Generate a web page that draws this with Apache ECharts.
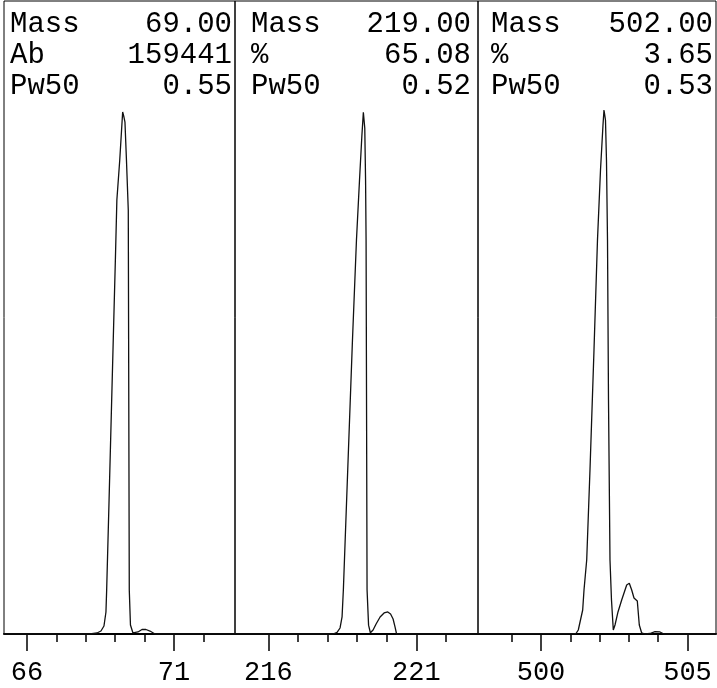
<!DOCTYPE html>
<html>
<head>
<meta charset="utf-8">
<script src="https://cdn.jsdelivr.net/npm/echarts@6.0.0/dist/echarts.min.js"></script>
<style>
html,body{margin:0;padding:0;background:#fff;}
#main{width:717px;height:688px;}
</style>
</head>
<body>
<div id="main"></div>
<script>
// header text for each panel
var massTitles = ['69.00', '219.00', '502.00'];
var row2Names = ['Ab', '%', '%'];
var row2Values = ['159441', '65.08', '3.65'];
var pw50Values = ['0.55', '0.52', '0.53'];

// axis ranges and ticks
var axisMin = [65.22, 214.875, 497.85];
var axisMax = [73.075, 223.08, 505.973];
var minorTicks = [[66, 67, 68, 69, 70, 71, 72], [216, 217, 218, 219, 220, 221, 222], [499, 500, 501, 502, 503, 504, 505]];
var majorTicks = [[66, 71], [216, 221], [500, 505]];

// peak profiles (mass, relative intensity)
var mass69X = [65.22, 68.143, 68.381, 68.517, 68.619, 68.687, 68.711, 68.793, 68.935, 69.007, 69.058, 69.156, 69.228, 69.255, 69.299, 69.333, 69.384, 69.446, 69.463, 69.48, 69.52, 69.605, 69.673, 69.776, 69.912, 70.048, 70.184, 70.354, 73.075];
var mass69Y = [0, 0, 0.16, 0.47, 1.26, 3.48, 6.95, 21.17, 46.45, 59.08, 68.56, 74.88, 80.41, 82.46, 81.67, 80.88, 74.88, 66.98, 36.97, 6.95, 1.42, 0.16, 0, 0.32, 0.71, 0.71, 0.47, 0, 0];

var mass219X = [214.875, 218.186, 218.321, 218.422, 218.49, 218.534, 218.706, 218.841, 218.976, 219.078, 219.16, 219.209, 219.257, 219.284, 219.301, 219.318, 219.334, 219.385, 219.446, 219.537, 219.639, 219.774, 219.909, 220.034, 220.128, 220.213, 220.28, 220.331, 223.08];
var mass219Y = [0, 0, 0.24, 0.95, 2.7, 7.0, 29.1, 46.4, 62.2, 71.6, 78.8, 82.4, 79.9, 71.6, 62.2, 33.8, 7.0, 1.4, 0.2, 0.63, 1.58, 2.69, 3.32, 3.48, 3.16, 2.37, 1.1, 0, 0];

var mass502X = [497.85, 501.195, 501.273, 501.423, 501.468, 501.56, 501.672, 501.809, 501.928, 502.031, 502.116, 502.15, 502.201, 502.235, 502.27, 502.304, 502.355, 502.406, 502.468, 502.526, 502.628, 502.754, 502.925, 503.014, 503.096, 503.174, 503.287, 503.355, 503.437, 503.549, 503.72, 503.891, 504.061, 504.198, 505.973];
var mass502Y = [0, 0.08, 0.63, 3.79, 6.95, 11.69, 25.91, 44.87, 62.24, 73.3, 80.41, 82.78, 81.2, 74.88, 62.24, 36.97, 11.69, 5.37, 0.63, 1.42, 3.48, 5.37, 7.74, 8.01, 6.95, 5.69, 5.21, 1.42, 0.16, 0, 0.08, 0.39, 0.32, 0, 0];

var peaksX = [mass69X, mass219X, mass502X];
var peaksY = [mass69Y, mass219Y, mass502Y];

var FONT = '"Liberation Mono", "DejaVu Sans Mono", monospace';
var gridLefts = [4, 235, 478];
var gridWidths = [231, 243, 238];
var textLeft = [10, 251, 491];
var textRight = [232, 471, 713];

function zip(xs, ys) {
	var out = [];
	for (var i = 0; i < xs.length; i++) out.push([xs[i], ys[i]]);
	return out;
}

var grids = [], xAxes = [], yAxes = [], series = [], texts = [];
for (var p = 0; p < 3; p++) {
	grids.push({
		left: gridLefts[p], top: 1, width: gridWidths[p], height: 633,
		show: true, borderColor: '#000', borderWidth: 1, backgroundColor: 'transparent'
	});
	// minor ticks + axis line
	xAxes.push({
		type: 'value', gridIndex: p, position: 'bottom',
		min: axisMin[p], max: axisMax[p],
		axisLine: { show: true, lineStyle: { color: '#000', width: 2 } },
		axisTick: { show: true, length: 8, customValues: minorTicks[p], lineStyle: { color: '#000', width: 1.5 } },
		axisLabel: { show: false },
		splitLine: { show: false }
	});
	// major ticks + labels
	xAxes.push({
		type: 'value', gridIndex: p, position: 'bottom',
		min: axisMin[p], max: axisMax[p],
		axisLine: { show: false },
		axisTick: { show: true, length: 17, customValues: majorTicks[p], lineStyle: { color: '#000', width: 1.5 } },
		axisLabel: { show: true, customValues: majorTicks[p], margin: 25, color: '#000', fontSize: 27, fontFamily: FONT },
		splitLine: { show: false }
	});
	yAxes.push({
		type: 'value', gridIndex: p, min: 0, max: 100, show: false, splitLine: { show: false }
	});
	series.push({
		type: 'line', xAxisIndex: p * 2, yAxisIndex: p,
		data: zip(peaksX[p], peaksY[p]),
		showSymbol: false, clip: true,
		lineStyle: { color: '#111', width: 1.3 }
	});

	var rows = [['Mass', massTitles[p]], [row2Names[p], row2Values[p]], ['Pw50', pw50Values[p]]];
	for (var r = 0; r < 3; r++) {
		var ty = 10 + r * 31;
		texts.push({ type: 'text', style: { text: rows[r][0], x: textLeft[p], y: ty, textAlign: 'left', textVerticalAlign: 'top', verticalAlign: 'top', font: '29px ' + FONT, fill: '#000' } });
		texts.push({ type: 'text', style: { text: rows[r][1], x: textRight[p], y: ty, textAlign: 'right', textVerticalAlign: 'top', verticalAlign: 'top', font: '29px ' + FONT, fill: '#000' } });
	}
}

var chart = echarts.init(document.getElementById('main'));
chart.setOption({
	animation: false,
	backgroundColor: '#fff',
	grid: grids,
	xAxis: xAxes,
	yAxis: yAxes,
	series: series,
	graphic: texts
});
</script>
</body>
</html>
